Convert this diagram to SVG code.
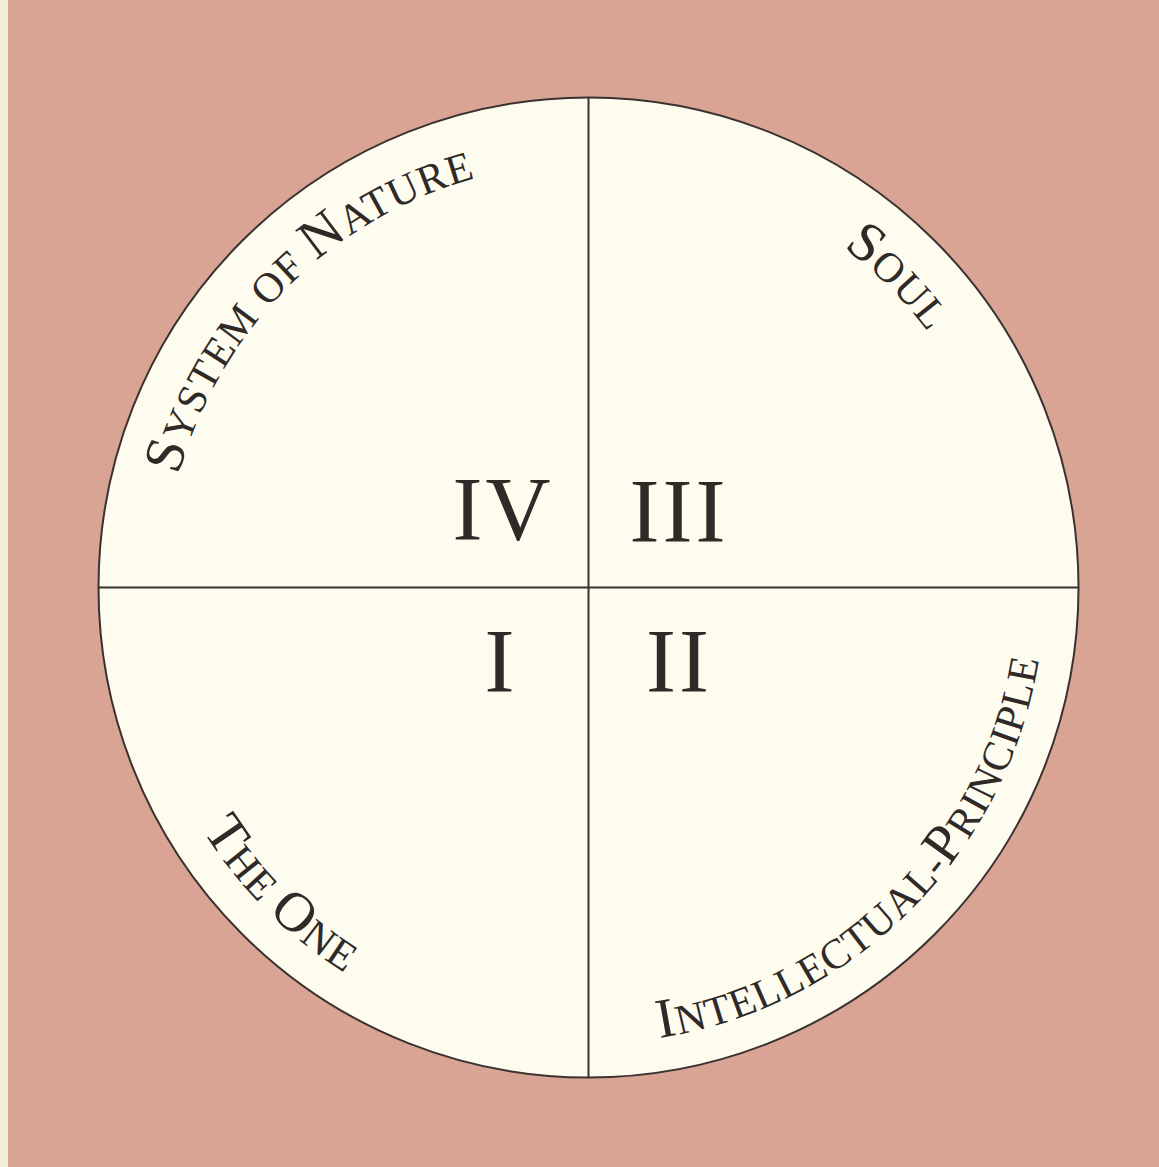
<svg xmlns="http://www.w3.org/2000/svg" xmlns:xlink="http://www.w3.org/1999/xlink" width="1159" height="1167" viewBox="0 0 1159 1167">
  <style>
    .lbl { font-family: "Liberation Serif", "DejaVu Serif", serif; fill: #2f2a28; letter-spacing: 1px; }
    .big { font-size: 56px; }
    .sm { font-size: 42px; }
    .num { font-family: "Liberation Serif", "DejaVu Serif", serif; font-size: 90px; fill: #2f2a28; text-anchor: middle; letter-spacing: 3px; }
    .rule { stroke: #3a3230; stroke-width: 2; fill: none; }
    .disc { fill: #fdfcef; stroke: #3a3230; stroke-width: 2; }
  </style>
  <defs>
    <path id="topArc" d="M 163.5 587.5 A 425 425 0 0 1 1013.5 587.5"/>
    <path id="botArc" d="M 132.5 587.5 A 456 456 0 0 0 1044.5 587.5"/>
  </defs>
  <rect x="0" y="0" width="1159" height="1167" fill="#d9a493"/>
  <rect x="0" y="0" width="8" height="1167" fill="#f3efd9"/>
  <circle class="disc" cx="588.5" cy="587.5" r="490"/>
  <g id="connectors">
    <line class="rule" x1="588.5" y1="97.5" x2="588.5" y2="1077.5"/>
    <line class="rule" x1="98.5" y1="587.5" x2="1078.5" y2="587.5"/>
  </g>
  <g id="quadrant-IV">
    <text class="num" x="503" y="540">IV</text>
    <text class="lbl" text-anchor="middle"><textPath xlink:href="#topArc" href="#topArc" startOffset="25%"><tspan class="big">S</tspan><tspan class="sm">YSTEM OF </tspan><tspan class="big">N</tspan><tspan class="sm">ATURE</tspan></textPath></text>
  </g>
  <g id="quadrant-III">
    <text class="num" x="679" y="542">III</text>
    <text class="lbl" text-anchor="middle"><textPath xlink:href="#topArc" href="#topArc" startOffset="75%"><tspan class="big">S</tspan><tspan class="sm">OUL</tspan></textPath></text>
  </g>
  <g id="quadrant-I">
    <text class="num" x="501" y="692">I</text>
    <text class="lbl" text-anchor="middle"><textPath xlink:href="#botArc" href="#botArc" startOffset="25%"><tspan class="big">T</tspan><tspan class="sm">HE </tspan><tspan class="big">O</tspan><tspan class="sm">NE</tspan></textPath></text>
  </g>
  <g id="quadrant-II">
    <text class="num" x="679" y="692">II</text>
    <text class="lbl" text-anchor="middle"><textPath xlink:href="#botArc" href="#botArc" startOffset="75%"><tspan class="big">I</tspan><tspan class="sm">NTELLECTUAL-</tspan><tspan class="big">P</tspan><tspan class="sm">RINCIPLE</tspan></textPath></text>
  </g>
</svg>
